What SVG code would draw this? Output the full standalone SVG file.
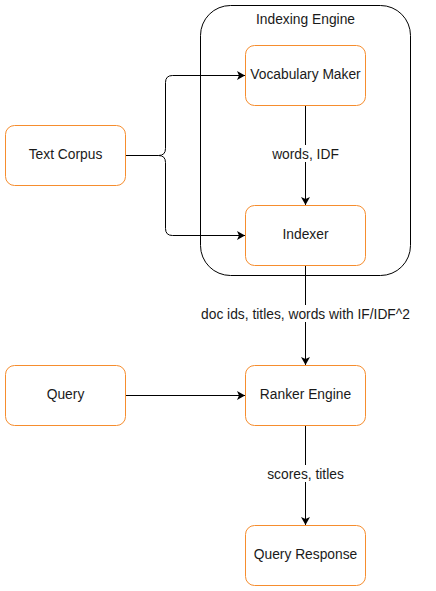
<svg xmlns="http://www.w3.org/2000/svg" width="436" height="591" viewBox="0 0 436 591">
<style>
.node{fill:#fff;stroke:#F68D2E;stroke-width:1}
.cont{fill:none;stroke:#000;stroke-width:1}
.t{font-family:"Liberation Sans",Arial,sans-serif;font-size:13.8px;fill:#1a1a1a;text-anchor:middle}
.e{fill:none;stroke:#000;stroke-width:1}
.lb{fill:#fff}
</style>
<defs>
<marker id="ah" markerWidth="10" markerHeight="10" refX="8" refY="4.5" orient="auto" markerUnits="userSpaceOnUse">
<path d="M0,0 L8,4.5 L0,9 L2,4.5 Z" fill="#000"/>
</marker>
</defs>
<rect width="436" height="591" fill="#fff"/>
<g id="indexing-engine">
<rect class="cont" x="200.5" y="5.5" width="210" height="270" rx="30"/>
<text class="t" x="305.5" y="24">Indexing Engine</text>
</g>
<g id="connectors">
<path class="e" d="M125.5,155.5 L158.5,155.5 Q165.5,155.5 165.5,148.5 L165.5,82.5 Q165.5,75.5 172.5,75.5 L245,75.5" marker-end="url(#ah)"/>
<path class="e" d="M158.5,155.5 Q165.5,155.5 165.5,162.5 L165.5,228.5 Q165.5,235.5 172.5,235.5 L245,235.5" marker-end="url(#ah)"/>
<path class="e" d="M305.5,105.5 L305.5,205" marker-end="url(#ah)"/>
<path class="e" d="M305.5,265.5 L305.5,365" marker-end="url(#ah)"/>
<path class="e" d="M125.5,395.5 L245,395.5" marker-end="url(#ah)"/>
<path class="e" d="M305.5,425.5 L305.5,525" marker-end="url(#ah)"/>
<rect class="lb" x="270" y="145" width="71" height="17"/>
<text class="t" x="305.5" y="158.5">words, IDF</text>
<rect class="lb" x="199" y="305" width="213" height="17"/>
<text class="t" x="305.5" y="318.5">doc ids, titles, words with IF/IDF^2</text>
<rect class="lb" x="265" y="465" width="81" height="17"/>
<text class="t" x="305.5" y="478.5">scores, titles</text>
</g>
<g id="text-corpus">
<rect class="node" x="5.5" y="125.5" width="120" height="60" rx="9"/>
<text class="t" x="65.5" y="159">Text Corpus</text>
</g>
<g id="vocabulary-maker">
<rect class="node" x="245.5" y="45.5" width="120" height="60" rx="9"/>
<text class="t" x="305.5" y="79">Vocabulary Maker</text>
</g>
<g id="indexer">
<rect class="node" x="245.5" y="205.5" width="120" height="60" rx="9"/>
<text class="t" x="305.5" y="239">Indexer</text>
</g>
<g id="query">
<rect class="node" x="5.5" y="365.5" width="120" height="60" rx="9"/>
<text class="t" x="65.5" y="399">Query</text>
</g>
<g id="ranker-engine">
<rect class="node" x="245.5" y="365.5" width="120" height="60" rx="9"/>
<text class="t" x="305.5" y="399">Ranker Engine</text>
</g>
<g id="query-response">
<rect class="node" x="245.5" y="525.5" width="120" height="60" rx="9"/>
<text class="t" x="305.5" y="559">Query Response</text>
</g>
</svg>
